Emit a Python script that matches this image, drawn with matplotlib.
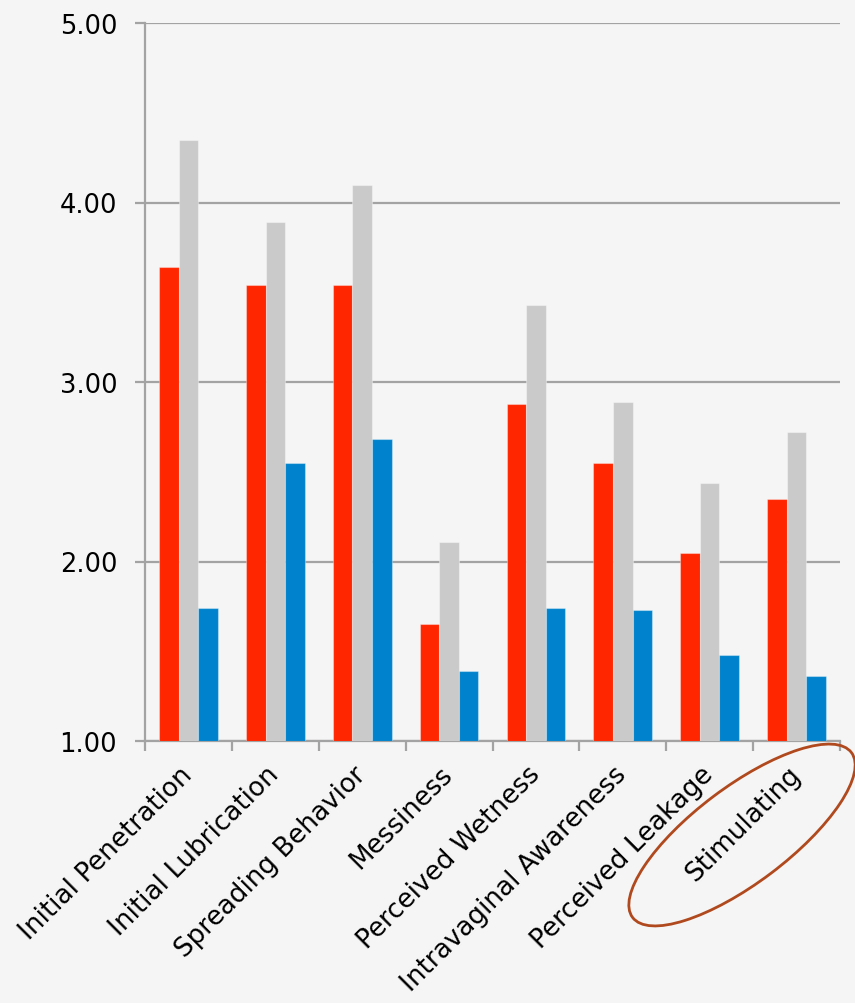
import numpy as np
import matplotlib
matplotlib.use('Agg')
import matplotlib.pyplot as plt
from matplotlib.patches import Ellipse

# 類別與數值
類別 = ['Initial Penetration', 'Initial Lubrication', 'Spreading Behavior', 'Messiness',
      'Perceived Wetness', 'Intravaginal Awareness', 'Perceived Leakage', 'Stimulating']
紅 = [3.64, 3.54, 3.54, 1.65, 2.88, 2.55, 2.05, 2.35]
灰 = [4.35, 3.89, 4.10, 2.11, 3.43, 2.89, 2.44, 2.72]
藍 = [1.74, 2.55, 2.68, 1.39, 1.74, 1.73, 1.48, 1.36]
y刻度 = [1, 2, 3, 4, 5]

plt.rcParams['font.family'] = ['DejaVu Sans']
背景 = '#f5f5f5'
線色 = '#a3a3a3'

圖表 = plt.figure(figsize=(8.55, 10.04), dpi=100, facecolor=背景)
軸 = 圖表.add_axes([145/855, 1 - 742/1004, (840 - 145)/855, (742 - 24)/1004])
軸.set_facecolor(背景)

x = np.arange(len(類別))
寬 = 0.225
邊 = dict(edgecolor=(1, 1, 1, 0.35), linewidth=0.8, zorder=3)
軸.bar(x - 寬, np.array(紅) - 1, 寬, bottom=1, color='#ff2600', **邊)
軸.bar(x, np.array(灰) - 1, 寬, bottom=1, color='#cacaca', **邊)
軸.bar(x + 寬, np.array(藍) - 1, 寬, bottom=1, color='#0083cc', **邊)

軸.set_xlim(-0.5, len(類別) - 0.5)
軸.set_ylim(1, 5)
軸.set_yticks(y刻度)
軸.set_yticklabels([f'{v:.2f}' for v in y刻度], fontsize=18.5)
軸.yaxis.grid(True, color=線色, linewidth=1.6, zorder=0)
軸.set_axisbelow(True)

# x 軸: 分隔刻度在類別之間，標籤在中心
軸.set_xticks(np.arange(len(類別) + 1) - 0.5)
軸.set_xticklabels([])
軸.set_xticks(x, minor=True)
軸.set_xticklabels(類別, minor=True, fontsize=18.8, rotation=45, ha='right',
                 va='center', rotation_mode='anchor')
軸.tick_params(axis='x', which='minor', length=0, pad=21)
軸.tick_params(axis='x', which='major', length=7, width=1.6, color=線色)
軸.tick_params(axis='y', length=7, width=1.6, color=線色, pad=13)

for s in ['top', 'right']:
    軸.spines[s].set_visible(False)
for s in ['left', 'bottom']:
    軸.spines[s].set_color(線色)
    軸.spines[s].set_linewidth(1.6)

# 標記 Stimulating 的橢圓
圈 = Ellipse((7.42, 1.68), 2.74, 0.96, angle=37, fill=False, edgecolor='#b04a1e',
           linewidth=2, transform=圖表.dpi_scale_trans, clip_on=False)
圖表.add_artist(圈)

plt.savefig('out.png', dpi=100, facecolor=背景)
plt.close()
